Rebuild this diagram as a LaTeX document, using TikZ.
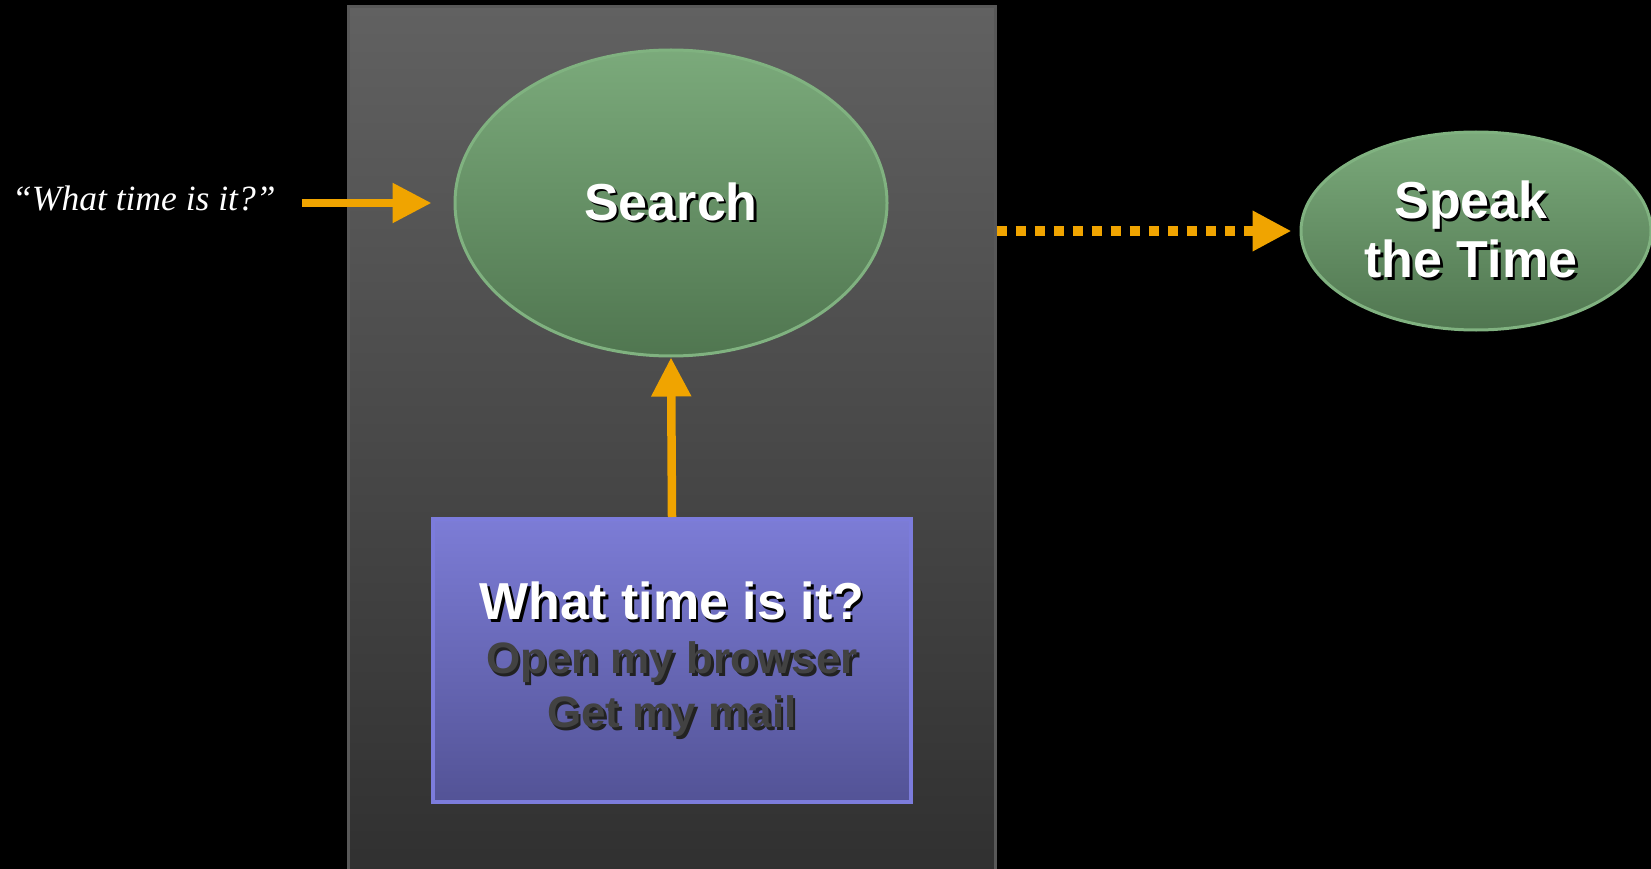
\documentclass[tikz,border=0pt]{standalone}
\usepackage{fontspec}
\setmainfont{Liberation Sans}
\newfontfamily\quotefont{Liberation Serif}
\usetikzlibrary{shapes.geometric,arrows.meta}
\definecolor{panelTop}{RGB}{97,97,97}
\definecolor{panelBot}{RGB}{48,48,48}
\definecolor{panelEdge}{RGB}{88,88,88}
\definecolor{greenTop}{RGB}{123,170,123}
\definecolor{greenBot}{RGB}{80,118,80}
\definecolor{greenEdge}{RGB}{128,178,128}
\definecolor{blueTop}{RGB}{124,124,214}
\definecolor{blueBot}{RGB}{83,83,150}
\definecolor{blueEdge}{RGB}{124,124,220}
\definecolor{flow}{RGB}{240,164,0}
\definecolor{dimtext}{RGB}{66,66,66}
\definecolor{dimshadow}{RGB}{34,34,34}
% text with a small drop shadow: {text colour}{shadow colour}{text}
\newcommand\shtxt[3]{\rlap{\kern2.5pt\raisebox{-2.5pt}{\textcolor{#2}{#3}}}\textcolor{#1}{#3}}
\tikzset{
  task/.style={ellipse, inner sep=0pt, line width=3pt, draw=greenEdge,
    top color=greenTop, bottom color=greenBot, align=center,
    font=\bfseries\fontsize{52}{61}\selectfont},
  phrasebox/.style={rectangle, inner sep=0pt, line width=4pt, draw=blueEdge,
    top color=blueTop, bottom color=blueBot, align=center,
    font=\bfseries\fontsize{52}{54}\selectfont},
  flowarrow/.style={draw=flow, line width=8.5pt,
    -{Triangle[length=39pt,width=38pt,fill=flow]}},
  dotarrow/.style={flowarrow, line width=10pt, dash pattern=on 10pt off 9pt}
}
\begin{document}
\begin{tikzpicture}[x=1pt,y=-1pt]
  \fill[black] (0,0) rectangle (1651,869);
  \useasboundingbox (0,0) rectangle (1651,869);

  % shaded panel holding the search machinery
  \node[rectangle, inner sep=0pt, minimum width=647pt, minimum height=868pt,
        line width=3pt, draw=panelEdge, top color=panelTop, bottom color=panelBot]
        (panel) at (671.5,441) {};

  \node[task, minimum width=432pt, minimum height=306pt] (search) at (671,203)
        {\shtxt{white}{black}{Search}};

  \node[task, minimum width=350pt, minimum height=198pt] (speak) at (1476,231)
        {\shtxt{white}{black}{Speak}\kern10pt\\[-2pt]\shtxt{white}{black}{the Time}\kern10pt};

  \node[phrasebox, minimum width=478pt, minimum height=283pt] (phrases) at (672,660.5)
        {\shtxt{white}{black}{What time is it?}\\
         \fontsize{44}{54}\selectfont\shtxt{dimtext}{dimshadow}{Open my browser}\\
         \fontsize{44}{54}\selectfont\shtxt{dimtext}{dimshadow}{Get my mail}};

  \node[anchor=west, inner sep=0pt, text=white,
        font=\quotefont\itshape\fontsize{35.5}{40}\selectfont] (query) at (12,198)
        {“What time is it?”};

  \draw[flowarrow, shorten <=26pt, shorten >=22pt] (query.east |- search.west) -- (search.west);
  \draw[flowarrow] (phrases.north) -- (search.south);
  \draw[dotarrow, shorten >=8pt] (panel.east |- speak.west) -- (speak.west);
\end{tikzpicture}
\end{document}
